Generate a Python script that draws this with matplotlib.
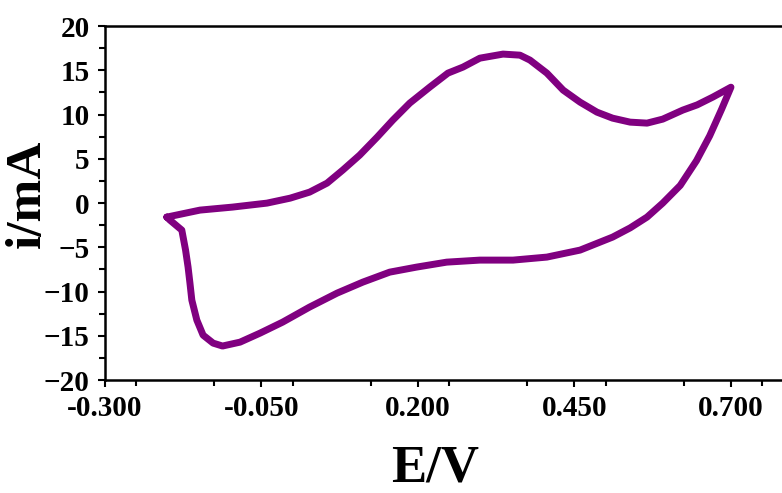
import matplotlib.pyplot as plt
from matplotlib.ticker import MultipleLocator

# anodic sweep (left vertex -> 0.7 V)
e_fwd = [-0.201, -0.148, -0.096, -0.041, -0.004, 0.027, 0.055, 0.080, 0.107, 0.135,
         0.160, 0.187, 0.219, 0.248, 0.272, 0.299, 0.336, 0.363, 0.379, 0.406,
         0.432, 0.459, 0.486, 0.511, 0.539, 0.566, 0.591, 0.623, 0.646, 0.671, 0.700]
i_fwd = [-1.58, -0.79, -0.45, 0.00, 0.56, 1.24, 2.26, 3.73, 5.42, 7.46,
         9.38, 11.30, 13.11, 14.69, 15.37, 16.38, 16.84, 16.72, 16.16, 14.69,
         12.77, 11.41, 10.28, 9.60, 9.15, 9.04, 9.49, 10.51, 11.10, 11.98, 13.10]

# cathodic sweep (0.7 V -> back to left vertex)
e_rev = [0.700, 0.685, 0.666, 0.645, 0.619, 0.591, 0.566, 0.539, 0.511, 0.459,
         0.406, 0.352, 0.299, 0.246, 0.198, 0.155, 0.112, 0.071, 0.027, -0.016,
         -0.052, -0.084, -0.112, -0.127, -0.143, -0.153, -0.161, -0.164, -0.167, -0.171,
         -0.177, -0.196, -0.201]
i_rev = [13.10, 10.60, 7.60, 4.80, 2.00, 0.00, -1.58, -2.80, -3.84, -5.31,
         -6.10, -6.44, -6.44, -6.67, -7.23, -7.80, -8.93, -10.17, -11.75, -13.45,
         -14.69, -15.71, -16.15, -15.82, -14.92, -13.22, -10.96, -9.04, -7.23, -5.31,
         -3.05, -1.92, -1.58]

xticks = [-0.300, -0.050, 0.200, 0.450, 0.700]
yticks = [-20, -15, -10, -5, 0, 5, 10, 15, 20]

font = 'Liberation Serif'

fig = plt.figure(figsize=(7.82, 4.93), dpi=100)
ax = fig.add_axes([0.134, 0.229, 0.866, 0.718])

ax.plot(e_fwd + e_rev, i_fwd + i_rev, color='#800080', lw=5,
        solid_joinstyle='round', solid_capstyle='round')

ax.set_xlim(-0.3, 0.7815)
ax.set_ylim(-20, 20)
ax.set_xticks(xticks)
ax.set_xticklabels(['%.3f' % v for v in xticks])
ax.set_yticks(yticks)
ax.xaxis.set_minor_locator(MultipleLocator(0.125))
ax.yaxis.set_minor_locator(MultipleLocator(2.5))

ax.spines['right'].set_visible(False)
for s in ['left', 'bottom', 'top']:
    ax.spines[s].set_linewidth(1.8)

ax.tick_params(which='both', direction='out', width=1.5, top=False, right=False)
ax.tick_params(which='major', length=5, pad=6)
ax.tick_params(which='minor', length=4)

for lab in ax.get_xticklabels() + ax.get_yticklabels():
    lab.set_fontfamily(font)
    lab.set_fontweight('bold')
    lab.set_fontsize(21)

fig.text(0.556, 0.049, 'E/V', family=font, weight='bold', fontsize=38,
         ha='center', va='center')
fig.text(0.036, 0.606, 'i/mA', family=font, weight='bold', fontsize=37,
         ha='center', va='center', rotation=90)

fig.savefig('out.png', dpi=100)
